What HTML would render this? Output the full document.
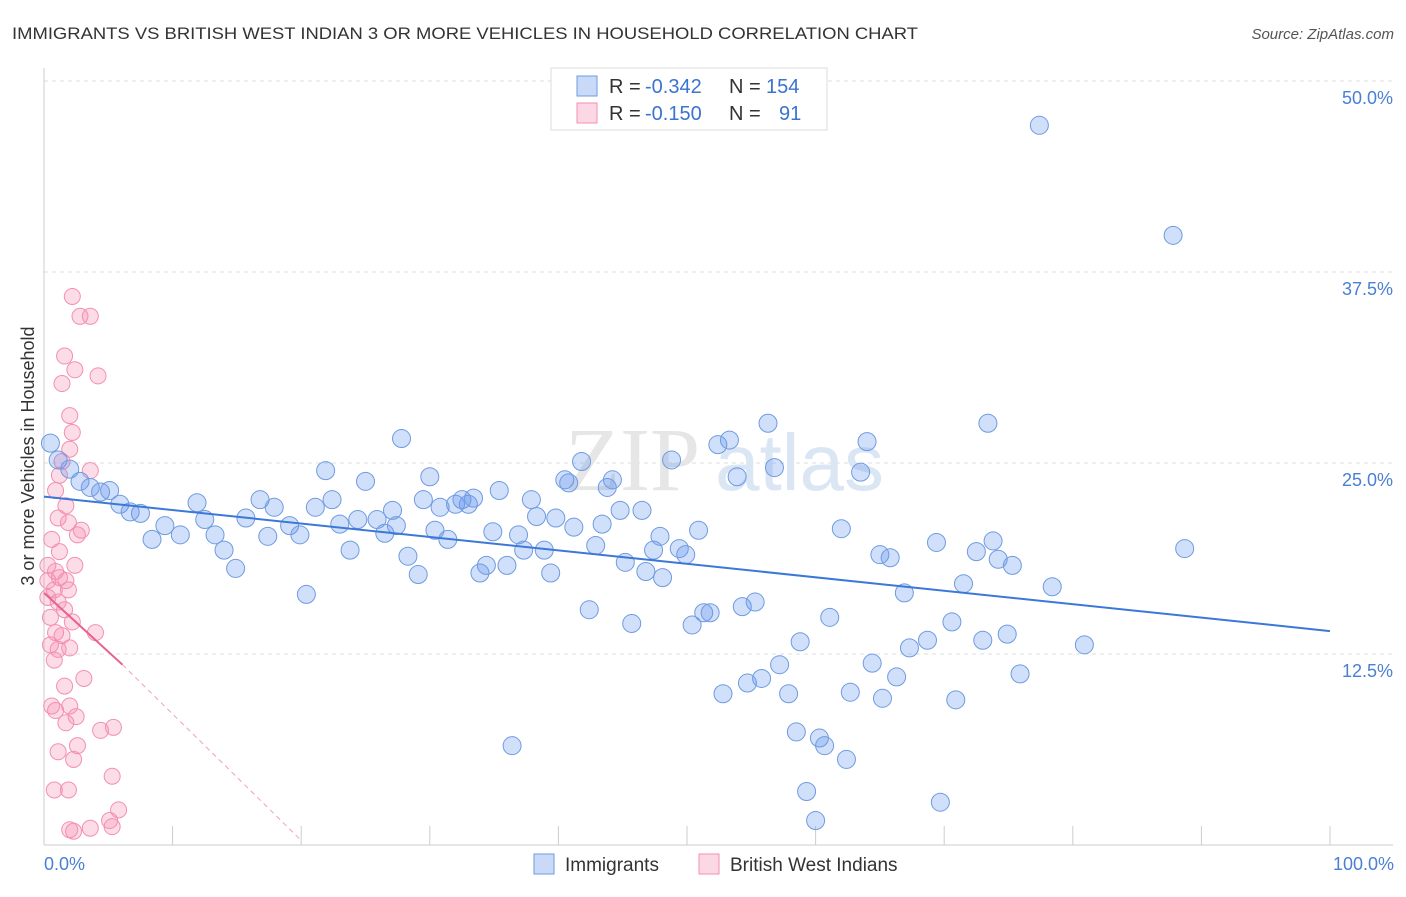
<!DOCTYPE html>
<html><head><meta charset="utf-8"><style>
body{margin:0;background:#fff;font-family:"Liberation Sans",sans-serif;}
</style></head><body>
<svg width="1406" height="892" xmlns="http://www.w3.org/2000/svg">
<text x="12" y="39" font-size="17" fill="#333" textLength="906" lengthAdjust="spacingAndGlyphs">IMMIGRANTS VS BRITISH WEST INDIAN 3 OR MORE VEHICLES IN HOUSEHOLD CORRELATION CHART</text>
<text x="1394" y="39" font-size="15" fill="#555" font-style="italic" text-anchor="end">Source: ZipAtlas.com</text>
<g id="grid"></g>
<text x="700" y="490" font-size="90" fill="#e6e6e6" text-anchor="end" font-family="Liberation Serif">ZIP</text>
<text x="715" y="490" font-size="80" fill="#dbe6f5">atlas</text>
<g id="pts"></g>
<g id="trend"></g>
<text x="34" y="456" font-size="18" fill="#333" transform="rotate(-90 34 456)" text-anchor="middle">3 or more Vehicles in Household</text>
<text x="44" y="870" font-size="18" fill="#4a7fd4">0.0%</text>
<text x="1394" y="870" font-size="18" fill="#4a7fd4" text-anchor="end">100.0%</text>
<g>
<rect x="551" y="68" width="276" height="62" fill="#fff" stroke="#ddd"/>
<rect x="577" y="76" width="20" height="20" fill="rgba(100,149,237,0.35)" stroke="#6f9be0"/>
<rect x="577" y="103" width="20" height="20" fill="rgba(244,143,177,0.35)" stroke="#f48fb1"/>
<text y="93" font-size="20" fill="#333"><tspan x="609">R =</tspan><tspan x="645" fill="#3b73d0">-0.342</tspan><tspan x="729">N =</tspan><tspan x="766" fill="#3b73d0">154</tspan></text>
<text y="120" font-size="20" fill="#333"><tspan x="609">R =</tspan><tspan x="645" fill="#3b73d0">-0.150</tspan><tspan x="729">N =</tspan><tspan x="779" fill="#3b73d0">91</tspan></text>
</g>
<g>
<rect x="534" y="854" width="20" height="20" fill="rgba(100,149,237,0.35)" stroke="#6f9be0"/>
<text x="565" y="871" font-size="19" fill="#333">Immigrants</text>
<rect x="699" y="854" width="20" height="20" fill="rgba(244,143,177,0.35)" stroke="#f48fb1"/>
<text x="730" y="871" font-size="19" fill="#333">British West Indians</text>
</g>
</svg>
<script>
const yTicks=[12.5,25,37.5,50];
const yTickLabels=["12.5%","25.0%","37.5%","50.0%"];
const blueX=[77.4,87.8,0.5,1.1,2.0,2.8,3.6,4.4,5.1,5.9,6.7,7.5,8.4,9.4,10.6,11.9,12.5,13.3,14.0,14.9,15.7,16.8,17.4,17.9,19.1,19.9,20.4,21.1,21.9,22.4,23.0,23.8,24.4,25.0,25.9,26.5,27.1,27.4,27.8,28.3,29.1,29.5,30.0,30.4,30.8,31.4,32.0,32.5,33.0,33.4,33.9,34.4,34.9,35.4,36.0,36.4,36.9,37.3,37.9,38.3,38.9,39.4,39.8,40.5,40.8,41.2,41.8,42.4,42.9,43.4,43.8,44.2,44.8,45.2,45.7,46.5,46.8,47.4,47.9,48.1,48.8,49.4,49.9,50.4,50.9,51.3,51.8,52.4,52.8,53.3,53.9,54.3,54.7,55.3,55.8,56.3,56.8,57.2,57.9,58.5,58.8,59.3,60.0,60.3,60.7,61.1,62.0,62.4,62.7,63.5,64.0,64.4,65.0,65.2,65.8,66.3,66.9,67.3,68.7,69.4,69.7,70.6,70.9,71.5,72.5,73.0,73.4,73.8,74.2,74.9,75.3,75.9,78.4,80.9,88.7];
const blueY=[47.1,39.9,26.3,25.2,24.6,23.8,23.4,23.1,23.2,22.3,21.8,21.7,20.0,20.9,20.3,22.4,21.3,20.3,19.3,18.1,21.4,22.6,20.2,22.1,20.9,20.3,16.4,22.1,24.5,22.6,21.0,19.3,21.3,23.8,21.3,20.4,21.9,20.9,26.6,18.9,17.7,22.6,24.1,20.6,22.1,20.0,22.3,22.6,22.3,22.7,17.8,18.3,20.5,23.2,18.3,6.5,20.3,19.3,22.6,21.5,19.3,17.8,21.4,23.9,23.7,20.8,25.1,15.4,19.6,21.0,23.4,23.9,21.9,18.5,14.5,21.9,17.9,19.3,20.2,17.5,25.2,19.4,19.0,14.4,20.6,15.2,15.2,26.2,9.9,26.5,24.1,15.6,10.6,15.9,10.9,27.6,24.7,11.8,9.9,7.4,13.3,3.5,1.6,7.0,6.5,14.9,20.7,5.6,10.0,24.4,26.4,11.9,19.0,9.6,18.8,11.0,16.5,12.9,13.4,19.8,2.8,14.6,9.5,17.1,19.2,13.4,27.6,19.9,18.7,13.8,18.3,11.2,16.9,13.1,19.4];
const pinkX=[2.2,2.8,3.6,1.6,2.4,1.4,4.2,2.0,2.2,2.0,1.4,1.2,3.6,0.9,1.7,1.1,1.9,2.9,2.6,0.6,1.2,0.3,2.4,0.9,0.3,1.2,1.7,0.8,1.9,0.3,1.1,1.6,0.5,2.2,0.9,1.4,4.0,0.5,1.1,2.0,0.8,3.1,1.6,0.6,0.9,2.0,2.5,1.7,4.4,5.4,2.6,1.1,2.3,5.3,0.8,1.9,5.8,5.1,5.3,2.0,3.6,2.3];
const pinkY=[35.9,34.6,34.6,32.0,31.1,30.2,30.7,28.1,27.0,25.9,25.1,24.2,24.5,23.2,22.2,21.4,21.1,20.6,20.3,20.0,19.2,18.3,18.3,17.9,17.3,17.5,17.3,16.7,16.7,16.2,15.9,15.4,14.9,14.6,13.9,13.7,13.9,13.1,12.8,12.9,12.1,10.9,10.4,9.1,8.8,9.1,8.4,8.0,7.5,7.7,6.5,6.1,5.6,4.5,3.6,3.6,2.3,1.6,1.2,1.0,1.1,0.9];
const blueTrend=[[0,22.8],[100,14.0]];
const pinkTrendSolid=[[0,16.5],[6.1,11.8]];
const pinkTrendDash=[[6.1,11.8],[20,0.3]];
const NS='http://www.w3.org/2000/svg';
const X=v=>44+v*12.86, Y=v=>845-v*15.28;
function mk(t,a,p){const e=document.createElementNS(NS,t);for(const k in a)e.setAttribute(k,a[k]);p.appendChild(e);return e;}
const g=document.getElementById('grid');
yTicks.forEach((t,i)=>{
 const l=mk('line',{x1:44,x2:1393,y1:Y(t),y2:Y(t),stroke:'#ddd','stroke-dasharray':'4,4'},g);
 
 
 const tx=mk('text',{x:1393,y:Y(t)+23,'font-size':18,fill:'#4a7fd4','text-anchor':'end'},g);
 tx.textContent=yTickLabels[i];
 
 
});
mk('line',{x1:44,x2:44,y1:68,y2:845,stroke:'#ccc'},g);
mk('line',{x1:44,x2:1393,y1:845,y2:845,stroke:'#ccc'},g);
for(let i=0;i<=10;i++){const t=mk('line',{x1:X(i*10),x2:X(i*10),y1:826,y2:845,stroke:'#ccc'},g);
 
 }
const p=document.getElementById('pts');
pinkX.forEach((v,i)=>{const c=mk('circle',{cx:X(v),cy:Y(pinkY[i]),r:8,fill:'rgba(244,143,177,0.3)',stroke:'#f48fb1','stroke-width':1},p);
 
 });
blueX.forEach((v,i)=>{const c=mk('circle',{cx:X(v),cy:Y(blueY[i]),r:9,fill:'rgba(100,149,237,0.3)',stroke:'#6f9be0','stroke-width':1},p);
 
 });
const tr=document.getElementById('trend');
const b=mk('line',{x1:X(blueTrend[0][0]),y1:Y(blueTrend[0][1]),x2:X(blueTrend[1][0]),y2:Y(blueTrend[1][1]),stroke:'#3b78d8','stroke-width':2},tr);


const ps=mk('line',{x1:X(pinkTrendSolid[0][0]),y1:Y(pinkTrendSolid[0][1]),x2:X(pinkTrendSolid[1][0]),y2:Y(pinkTrendSolid[1][1]),stroke:'#e8608c','stroke-width':2},tr);


const pd=mk('line',{x1:X(pinkTrendDash[0][0]),y1:Y(pinkTrendDash[0][1]),x2:X(pinkTrendDash[1][0]),y2:Y(pinkTrendDash[1][1]),stroke:'#f0a0b8','stroke-width':1,'stroke-dasharray':'5,4'},tr);


</script>
</body></html>
